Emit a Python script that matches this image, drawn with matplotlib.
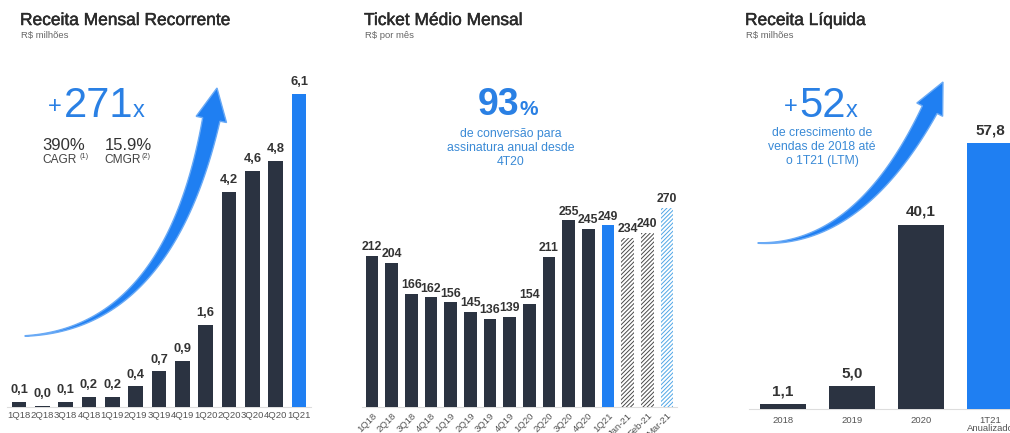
import numpy as np
import matplotlib
matplotlib.use('Agg')
import matplotlib.pyplot as plt
from matplotlib.patches import Polygon
import matplotlib.patheffects as pe

matplotlib.rcParams['font.family'] = ['Liberation Sans', 'DejaVu Sans']
matplotlib.rcParams['hatch.linewidth'] = 0.7

# data
mrr_labels = ['1Q18', '2Q18', '3Q18', '4Q18', '1Q19', '2Q19', '3Q19', '4Q19',
              '1Q20', '2Q20', '3Q20', '4Q20', '1Q21']
mrr_values = [0.1, 0.02, 0.1, 0.2, 0.2, 0.4, 0.7, 0.9, 1.6, 4.2, 4.6, 4.8, 6.1]
mrr_text = ['0,1', '0,0', '0,1', '0,2', '0,2', '0,4', '0,7', '0,9', '1,6',
            '4,2', '4,6', '4,8', '6,1']

ticket_labels = ['1Q18', '2Q18', '3Q18', '4Q18', '1Q19', '2Q19', '3Q19', '4Q19',
                 '1Q20', '2Q20', '3Q20', '4Q20', '1Q21', 'Jan-21', 'Feb-21', 'Mar-21']
ticket_values = [212, 204, 166, 162, 156, 145, 136, 139, 154, 211, 255, 245, 249,
                 234, 240, 270]

rev_labels = ['2018', '2019', '2020', '1T21\nAnualizado']
rev_values = [1.1, 5.0, 40.1, 57.8]
rev_text = ['1,1', '5,0', '40,1', '57,8']

DARK = '#2b3341'
BLUE = '#1f7ff2'
TBLUE = '#2a80e4'
SBLUE = '#3a8ad6'
W, H = 1010, 433

fig = plt.figure(figsize=(W / 100, H / 100), dpi=100)
fig.patch.set_facecolor('white')


def px(x, y):
    return x / W, 1 - y / H


def add_ax(left, right, bottom, top):
    ax = fig.add_axes([left / W, 1 - bottom / H, (right - left) / W, (bottom - top) / H])
    ax.set_facecolor('none')
    for s in ['top', 'right', 'left']:
        ax.spines[s].set_visible(False)
    ax.spines['bottom'].set_color('#dddddd')
    ax.spines['bottom'].set_linewidth(0.8)
    ax.set_yticks([])
    ax.tick_params(axis='x', length=0, colors='#555555')
    return ax


def swoosh(p0, c, p2, wmax, head_w, head_len):
    p0, c, p2 = np.array(p0, float), np.array(c, float), np.array(p2, float)
    bez = lambda t: ((1 - t) ** 2)[:, None] * p0 + (2 * (1 - t) * t)[:, None] * c + (t ** 2)[:, None] * p2
    dbez = lambda t: (2 * (1 - t))[:, None] * (c - p0) + (2 * t)[:, None] * (p2 - c)
    tt = np.linspace(0, 1, 400)
    pts = bez(tt)
    seg = np.r_[0, np.cumsum(np.hypot(*np.diff(pts, axis=0).T))]
    t_end = tt[np.searchsorted(seg, seg[-1] - head_len)]
    t = np.linspace(0, t_end, 120)
    p = bez(t)
    d = dbez(t)
    d = d / np.hypot(d[:, 0], d[:, 1])[:, None]
    n = np.c_[-d[:, 1], d[:, 0]]
    w = wmax * (t / t_end) ** 1.3 / 2 + 0.3
    left = p + n * w[:, None]
    right = p - n * w[:, None]
    base = p[-1]
    nb = n[-1]
    head = [base + nb * head_w / 2, p2, base - nb * head_w / 2]
    poly = np.vstack([left, head, right[::-1]])
    poly = np.array([px(x, y) for x, y in poly])
    fig.patches.append(Polygon(poly, closed=True, transform=fig.transFigure,
                               facecolor=BLUE, edgecolor='#6aaaf5', lw=1.0, zorder=1))


# panel 1: Receita Mensal Recorrente
ax1 = add_ax(7.3, 310.7, 407, 407 - 333.5)
x1 = np.arange(len(mrr_values))
colors1 = [DARK] * (len(mrr_values) - 1) + [BLUE]
ax1.bar(x1, mrr_values, width=0.62, color=colors1, zorder=3)
ax1.set_xlim(-0.5, len(mrr_values) - 0.5)
ax1.set_ylim(0, 6.5)
ax1.set_xticks(x1)
ax1.set_xticklabels(mrr_labels, fontsize=6.8)
ax1.tick_params(axis='x', pad=3)
for xi, v, t in zip(x1, mrr_values, mrr_text):
    ax1.annotate(t, (xi, v), xytext=(0, 4), textcoords='offset points', ha='center',
                 va='bottom', fontsize=9.3, fontweight='bold', color='#333333')

# panel 2: Ticket Medio Mensal
n2 = len(ticket_values)
sp2 = (667 - 372) / (n2 - 1)
ax2 = add_ax(372 - sp2 / 2, 667 + sp2 / 2, 407, 407 - 224)
x2 = np.arange(n2)
for xi, v in zip(x2, ticket_values):
    if xi < 12:
        ax2.bar(xi, v, width=0.66, color=DARK, zorder=3)
    elif xi == 12:
        ax2.bar(xi, v, width=0.66, color=BLUE, zorder=3)
    elif xi < 15:
        ax2.bar(xi, v, width=0.66, color='white', edgecolor='#4a4a4a', hatch='////////',
                lw=0, zorder=3)
    else:
        ax2.bar(xi, v, width=0.66, color='white', edgecolor='#4fa6e6', hatch='////////',
                lw=0, zorder=3)
    ax2.annotate(str(v), (xi, v), xytext=(0, 2), textcoords='offset points', ha='center',
                 va='bottom', fontsize=8.8, fontweight='bold', color='#333333',
                 annotation_clip=False)
ax2.set_xlim(-0.5, n2 - 0.5)
ax2.set_ylim(30, 300)
ax2.set_xticks(x2)
ax2.set_xticklabels(ticket_labels, fontsize=6.8, rotation=45, ha='right',
                    rotation_mode='anchor')
ax2.tick_params(axis='x', pad=3)

# panel 3: Receita Liquida
ax3 = add_ax(748.5, 1024.5, 409, 409 - 322)
x3 = np.arange(len(rev_values))
colors3 = [DARK] * (len(rev_values) - 1) + [BLUE]
ax3.bar(x3, rev_values, width=0.67, color=colors3, zorder=3)
ax3.set_xlim(-0.5, len(rev_values) - 0.5)
ax3.set_ylim(0, 70)
ax3.set_xticks(x3)
ax3.set_xticklabels(rev_labels, fontsize=6.8, linespacing=0.9)
ax3.tick_params(axis='x', pad=5)
for xi, v, t in zip(x3, rev_values, rev_text):
    ax3.annotate(t, (xi, v), xytext=(0, 4), textcoords='offset points', ha='center',
                 va='bottom', fontsize=11, color='#333333', fontweight='bold')

# titles
for x0, title, sub in [(20, 'Receita Mensal Recorrente', 'R$ milhões'),
                       (364, 'Ticket Médio Mensal', 'R$ por mês'),
                       (745, 'Receita Líquida', 'R$ milhões')]:
    fig.text(*px(x0, 25), title, fontsize=12.5, color='#2a2a2a', va='baseline',
             path_effects=[pe.withStroke(linewidth=0.35, foreground='#2a2a2a')])
    fig.text(*px(x0 + 1, 38), sub, fontsize=6.8, color='#666666', va='baseline')

# arrows
swoosh((25, 336), (179, 328), (217, 88), 17, 31, 33)
swoosh((758, 243), (869, 247), (943, 82), 16, 29, 31)

# panel 1 callouts
fig.text(*px(62, 113), '+', fontsize=17, color=TBLUE, ha='right', va='baseline')
fig.text(*px(64, 117), '271', fontsize=30, color=TBLUE, ha='left', va='baseline')
fig.text(*px(133, 117), 'x', fontsize=17, color=TBLUE, ha='left', va='baseline')
fig.text(*px(64, 150), '390%', fontsize=12, color='#333333', ha='center', va='baseline')
fig.text(*px(128, 150), '15.9%', fontsize=12, color='#333333', ha='center', va='baseline')
fig.text(*px(42, 163), 'CAGR', fontsize=8.6, color='#444444', ha='left', va='baseline')
fig.text(*px(79, 158), '(1)', fontsize=5.2, color='#444444', ha='left', va='baseline')
fig.text(*px(104, 163), 'CMGR', fontsize=8.6, color='#444444', ha='left', va='baseline')
fig.text(*px(142, 158), '(2)', fontsize=5.2, color='#444444', ha='left', va='baseline')

# panel 2 callouts
fig.text(*px(519, 115), '93', fontsize=27, color=TBLUE, ha='right', va='baseline',
         fontweight='bold')
fig.text(*px(520, 115), '%', fontsize=15, color=TBLUE, ha='left', va='baseline',
         fontweight='bold')
fig.text(*px(511, 128), 'de conversão para\nassinatura anual desde\n4T20', fontsize=8.8,
         color=SBLUE, ha='center', va='top', linespacing=1.2)

# panel 3 callouts
fig.text(*px(798, 113), '+', fontsize=17, color=TBLUE, ha='right', va='baseline')
fig.text(*px(799, 117), '52', fontsize=30, color=TBLUE, ha='left', va='baseline')
fig.text(*px(846, 117), 'x', fontsize=17, color=TBLUE, ha='left', va='baseline')
fig.text(*px(822, 127), 'de crescimento de\nvendas de 2018 até\no 1T21 (LTM)', fontsize=8.8,
         color=SBLUE, ha='center', va='top', linespacing=1.2)

fig.savefig('out.png', dpi=100, facecolor='white')
